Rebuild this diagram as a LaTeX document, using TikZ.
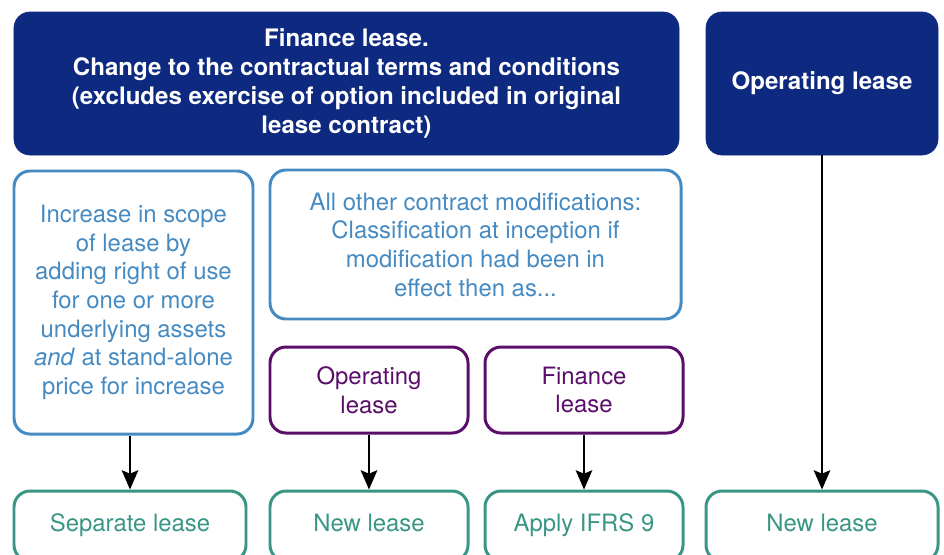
\documentclass[tikz,border=0pt]{standalone}
\usepackage{fontspec}
\setmainfont{TeX Gyre Heros}
\usetikzlibrary{arrows.meta,positioning}
\definecolor{headblue}{RGB}{14,42,128}
\definecolor{lightblue}{RGB}{70,138,194}
\definecolor{leasepurple}{RGB}{90,14,106}
\definecolor{resultgreen}{RGB}{58,150,132}

\begin{document}
\begin{tikzpicture}[
    every node/.style={font=\fontsize{13.6}{16.3}\selectfont, align=center},
    headbox/.style={rectangle, rounded corners=0.32cm, fill=headblue, draw=headblue, text=white,
        font=\fontsize{13.7}{16.4}\selectfont\bfseries, minimum height=2.86cm},
    bluebox/.style={rectangle, rounded corners=0.32cm, draw=lightblue, line width=1.7pt, text=lightblue},
    purplebox/.style={rectangle, rounded corners=0.32cm, draw=leasepurple, line width=1.7pt, text=leasepurple,
        minimum width=3.96cm, minimum height=1.72cm},
    greenbox/.style={rectangle, rounded corners=0.32cm, draw=resultgreen, line width=1.7pt, text=resultgreen,
        minimum height=1.4cm, text height=1.6ex, text depth=0.4ex},
    >={Stealth[length=11pt,width=9.5pt,inset=2pt]}
]
    \useasboundingbox (0,0) rectangle (18.88,-11.08);
    \clip (0,0) rectangle (18.88,-11.08);

    \node[headbox, minimum width=13.3cm] (finance) at (6.93,-1.67)
        {Finance lease.\\ Change to the contractual terms and conditions\\
         (excludes exercise of option included in original\\ lease contract)};
    \node[headbox, minimum width=4.64cm] (operating) at (16.44,-1.67) {Operating lease};

    \node[bluebox, minimum width=4.78cm, minimum height=5.26cm] (scope) at (2.67,-6.05)
        {Increase in scope\\ of lease by\\ adding right of use\\ for one or more\\
         underlying assets\\ \textit{and} at stand-alone\\ price for increase};
    \node[bluebox, minimum width=8.22cm, minimum height=2.98cm] (other) at (9.51,-4.89)
        {All other contract modifications:\\ Classification at inception if\\
         modification had been in\\ effect then as...};

    \node[purplebox] (oplease) at (7.38,-7.8) {Operating\\ lease};
    \node[purplebox] (finlease) at (11.68,-7.8) {Finance\\ lease};

    \node[greenbox, minimum width=4.64cm] (separate) at (2.6,-10.52) {Separate lease};
    \node[greenbox, minimum width=3.96cm] (newlease) at (7.38,-10.52) {New lease};
    \node[greenbox, minimum width=3.96cm] (ifrs) at (11.68,-10.52) {Apply IFRS 9};
    \node[greenbox, minimum width=4.64cm] (newlease2) at (16.44,-10.52) {New lease};

    \draw[->, line width=0.8pt] (separate.north |- scope.south) -- (separate);
    \draw[->, line width=0.8pt] (oplease) -- (newlease);
    \draw[->, line width=0.8pt] (finlease) -- (ifrs);
    \draw[->, line width=0.8pt] (operating) -- (newlease2);
\end{tikzpicture}
\end{document}
